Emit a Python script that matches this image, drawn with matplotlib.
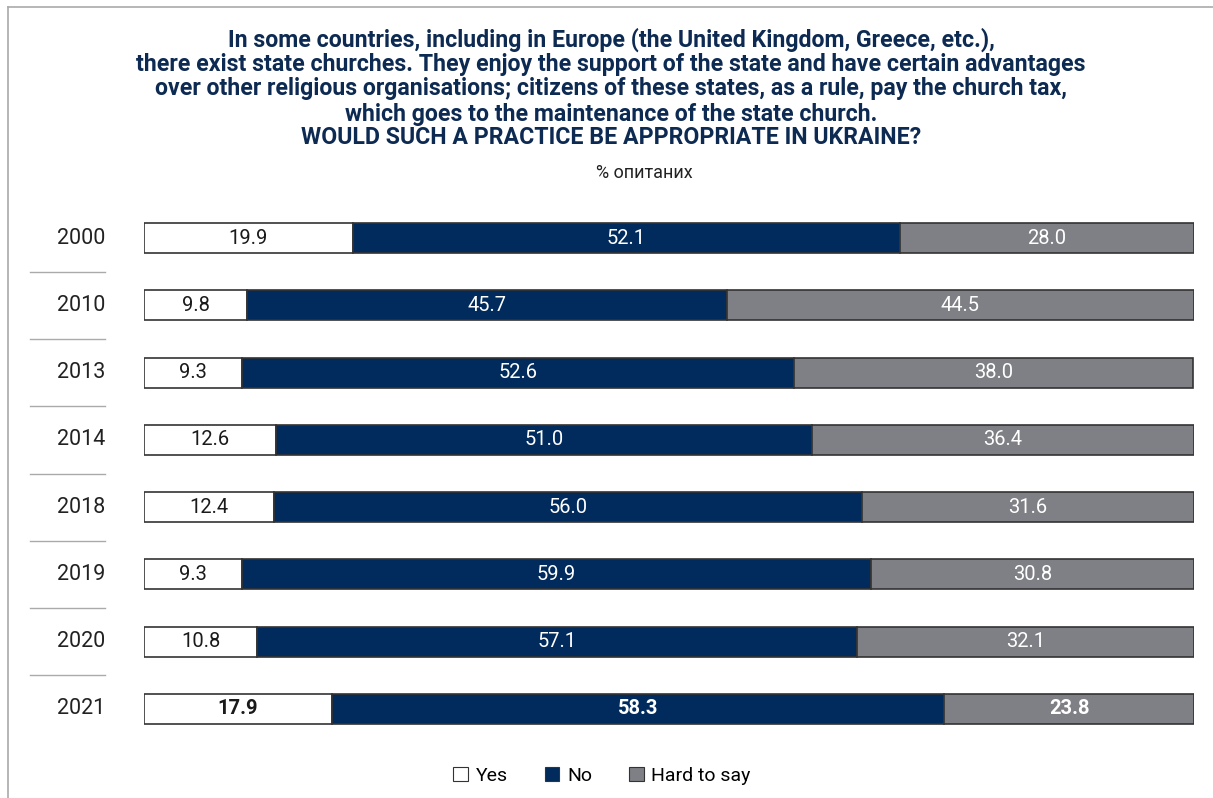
import matplotlib
matplotlib.use("Agg")
import matplotlib.pyplot as plt
from matplotlib.patches import Patch
from matplotlib.lines import Line2D
from matplotlib.transforms import blended_transform_factory

years = ["2000", "2010", "2013", "2014", "2018", "2019", "2020", "2021"]
yes = [19.9, 9.8, 9.3, 12.6, 12.4, 9.3, 10.8, 17.9]
no = [52.1, 45.7, 52.6, 51.0, 56.0, 59.9, 57.1, 58.3]
hard = [28.0, 44.5, 38.0, 36.4, 31.6, 30.8, 32.1, 23.8]
series_names = ["Yes", "No", "Hard to say"]

title_lines = [
    "In some countries, including in Europe (the United Kingdom, Greece, etc.),",
    "there exist state churches. They enjoy the support of the state and have certain advantages",
    "over other religious organisations; citizens of these states, as a rule, pay the church tax,",
    "which goes to the maintenance of the state church.",
    "WOULD SUCH A PRACTICE BE APPROPRIATE IN UKRAINE?",
]
subtitle = "% опитаних"

NAVY = "#002b5c"
GREY = "#7f8085"
EDGE = "#333333"

TITLE_FONT = ["Roboto", "DejaVu Sans"]
plt.rcParams["font.family"] = ["Roboto", "DejaVu Sans"]


def main():
    W, H = 1213, 798
    fig = plt.figure(figsize=(W / 100, H / 100), dpi=100)

    # layout in pixels
    x0, x1 = 144, 1194
    c_first, c_last = 238, 709
    step = (c_last - c_first) / (len(years) - 1)
    top = c_first - step / 2
    bot = c_last + step / 2
    ax = fig.add_axes([x0 / W, 1 - bot / H, (x1 - x0) / W, (bot - top) / H])

    n = len(years)
    idx = list(range(n))
    h = 30 / step
    lefts_hard = [a + b for a, b in zip(yes, no)]
    ax.barh(idx, yes, height=h, color="white", edgecolor=EDGE, linewidth=1.2)
    ax.barh(idx, no, left=yes, height=h, color=NAVY, edgecolor=EDGE, linewidth=1.2)
    ax.barh(idx, hard, left=lefts_hard, height=h, color=GREY, edgecolor=EDGE, linewidth=1.2)

    for i in idx:
        weight = "bold" if i == n - 1 else "normal"
        ax.text(yes[i] / 2, i, f"{yes[i]:.1f}", ha="center", va="center",
                fontsize=14.5, color="#1a1a1a", fontweight=weight)
        ax.text(yes[i] + no[i] / 2, i, f"{no[i]:.1f}", ha="center", va="center",
                fontsize=14.5, color="white", fontweight=weight)
        ax.text(lefts_hard[i] + hard[i] / 2, i, f"{hard[i]:.1f}", ha="center", va="center",
                fontsize=14.5, color="white", fontweight=weight)

    ax.set_xlim(0, 100)
    ax.set_ylim(n - 0.5, -0.5)
    ax.axis("off")

    # year labels and separators
    tr = blended_transform_factory(fig.transFigure, ax.transData)
    for i, y in enumerate(years):
        ax.text(105 / W, i, y, transform=tr, ha="right", va="center",
                fontsize=15.5, color="#222222")
        if i < n - 1:
            ax.add_line(Line2D([30 / W, 105 / W], [i + 0.5, i + 0.5], transform=tr,
                               color="#aaaaaa", linewidth=1, clip_on=False))

    # title, sized so the widest line spans about 952 px
    ys = [40, 65, 89, 114, 137]
    texts = []
    for line, yy in zip(title_lines, ys):
        texts.append(fig.text(611 / W, 1 - yy / H, line, ha="center", va="center",
                              fontsize=16, fontweight="bold", color="#0d2a52",
                              family=TITLE_FONT))
    r = fig.canvas.get_renderer()
    wide = texts[1].get_window_extent(r).width
    size = 16 * 952 / wide
    for t in texts:
        t.set_fontsize(size)
    fig.text(644 / W, 1 - 173 / H, subtitle, ha="center", va="center",
             fontsize=13, color="#222222")

    # legend
    handles = [Patch(facecolor=c, edgecolor=EDGE, linewidth=0.8)
               for c in ["white", NAVY, GREY]]
    fig.legend(handles, series_names, loc="center", bbox_to_anchor=(602 / W, 1 - 776 / H),
               ncol=3, frameon=False, handlelength=0.75, handleheight=0.75,
               handletextpad=0.4, columnspacing=1.9, prop={"size": 14})

    # frame lines
    fig.add_artist(Line2D([8 / W, 8 / W], [0, 1 - 7 / H], color="#aaaaaa", linewidth=1.2))
    fig.add_artist(Line2D([8 / W, 1], [1 - 7 / H, 1 - 7 / H], color="#aaaaaa", linewidth=1.2))

    fig.savefig("out.png", dpi=100)


if __name__ == "__main__":
    main()
